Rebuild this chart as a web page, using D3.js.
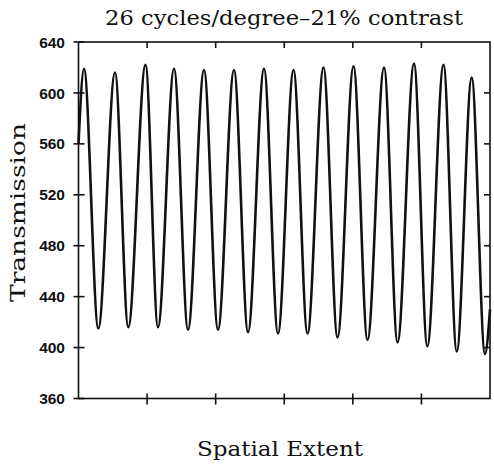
<!DOCTYPE html>
<html>
<head>
<meta charset="utf-8">
<script src="https://cdn.jsdelivr.net/npm/d3@7"></script>
<style>
  html, body { margin: 0; padding: 0; background: #fff; }
  svg { display: block; }
</style>
</head>
<body>
<svg id="chart" width="494" height="467"></svg>
<script>
// ---- Data ----
const title = "26 cycles/degree\u201321% contrast";
const xLabel = "Spatial Extent";
const yLabel = "Transmission";
const yTicks = [360, 400, 440, 480, 520, 560, 600, 640];
const xTicks = [1, 2, 3, 4, 5];

// positions (spatial extent units, 0..6) and values of the wave extrema
const peakX   = [0.080, 0.532, 0.977, 1.393, 1.830, 2.267, 2.705, 3.135, 3.572, 4.010, 4.455, 4.892, 5.322, 5.733];
const peakY   = [619, 616, 622, 619, 618, 618, 619, 618, 620, 621, 620, 623, 622, 612];
const troughX = [0.289, 0.726, 1.159, 1.597, 2.034, 2.472, 2.909, 3.339, 3.777, 4.214, 4.652, 5.086, 5.515, 5.927];
const troughY = [415, 416, 416, 414, 414, 412, 411, 411, 408, 406, 404, 401, 397, 395];
const startPoint = [0, 560];
const endPoint = [6, 430];

// ---- Build series ----
const series = [startPoint];
for (let i = 0; i < peakX.length; i++) {
  series.push([peakX[i], peakY[i]]);
  series.push([troughX[i], troughY[i]]);
}
series.push(endPoint);

// ---- Layout ----
const svg = d3.select("#chart");
const L = 78.5, R = 490, T = 42, B = 398.5;
const x = d3.scaleLinear().domain([0, 6]).range([L, R]);
const y = d3.scaleLinear().domain([360, 640]).range([B, T]);

// frame
svg.append("rect")
  .attr("x", L).attr("y", T).attr("width", R - L).attr("height", B - T)
  .attr("fill", "none").attr("stroke", "#111").attr("stroke-width", 1.6);

// left axis: crossing ticks + labels
const gL = svg.append("g");
gL.selectAll("line").data(yTicks).join("line")
  .attr("x1", L - 5).attr("x2", L + 6)
  .attr("y1", d => y(d)).attr("y2", d => y(d))
  .attr("stroke", "#111").attr("stroke-width", 1.6);
gL.selectAll("text").data(yTicks).join("text")
  .attr("x", 65).attr("y", d => y(d)).attr("dy", "0.36em")
  .attr("text-anchor", "end")
  .attr("font-family", "Liberation Sans, Arial, sans-serif")
  .attr("font-weight", "bold").attr("font-size", 15.5)
  .attr("fill", "#111")
  .text(d => d);

// right axis: inward ticks
svg.append("g").selectAll("line").data(yTicks.slice(1, -1)).join("line")
  .attr("x1", R - 6).attr("x2", R)
  .attr("y1", d => y(d)).attr("y2", d => y(d))
  .attr("stroke", "#111").attr("stroke-width", 1.6);

// bottom axis: crossing ticks
svg.append("g").selectAll("line").data(xTicks).join("line")
  .attr("x1", d => x(d)).attr("x2", d => x(d))
  .attr("y1", B - 5).attr("y2", B + 6)
  .attr("stroke", "#111").attr("stroke-width", 1.6);

// top axis: inward ticks
svg.append("g").selectAll("line").data(xTicks).join("line")
  .attr("x1", d => x(d)).attr("x2", d => x(d))
  .attr("y1", T).attr("y2", T + 6)
  .attr("stroke", "#111").attr("stroke-width", 1.6);

// wave
const line = d3.line()
  .x(d => x(d[0])).y(d => y(d[1]))
  .curve(d3.curveMonotoneX);
svg.append("path")
  .datum(series)
  .attr("d", line)
  .attr("fill", "none")
  .attr("stroke", "#111")
  .attr("stroke-width", 2.6)
  .attr("stroke-linejoin", "round");

// title
svg.append("text")
  .attr("x", 284).attr("y", 25)
  .attr("text-anchor", "middle")
  .attr("font-family", "DejaVu Serif, serif")
  .attr("font-size", 20.5).attr("fill", "#111")
  .attr("textLength", 358).attr("lengthAdjust", "spacingAndGlyphs")
  .text(title);

// x label
svg.append("text")
  .attr("x", 280).attr("y", 456)
  .attr("text-anchor", "middle")
  .attr("font-family", "DejaVu Serif, serif")
  .attr("font-size", 20.5).attr("fill", "#111")
  .attr("textLength", 166).attr("lengthAdjust", "spacingAndGlyphs")
  .text(xLabel);

// y label
svg.append("text")
  .attr("transform", "translate(25,212.5) rotate(-90)")
  .attr("text-anchor", "middle")
  .attr("font-family", "DejaVu Serif, serif")
  .attr("font-size", 20).attr("fill", "#111")
  .attr("textLength", 179).attr("lengthAdjust", "spacingAndGlyphs")
  .text(yLabel);
</script>
</body>
</html>
